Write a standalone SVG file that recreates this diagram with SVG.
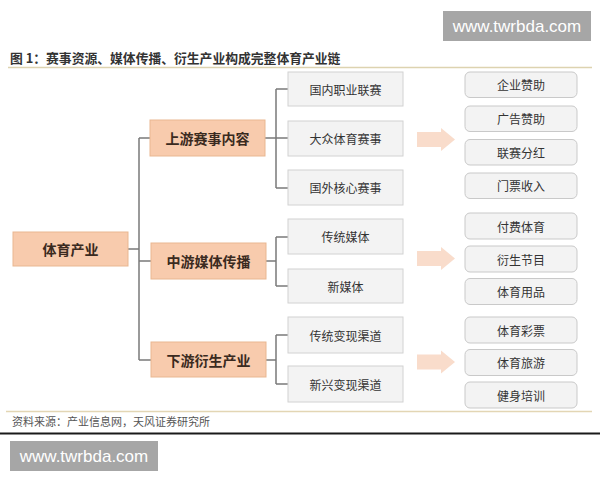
<svg xmlns="http://www.w3.org/2000/svg" width="600" height="480" viewBox="0 0 600 480">
<style>
text{font-family:"Noto Sans CJK SC","Noto Sans",sans-serif;text-anchor:middle;dominant-baseline:central}
.org{fill:#f8cbad;stroke:#e9b791;stroke-width:1}
.orgt{font-size:14px;font-weight:bold;fill:#3a2a20}
.mid{fill:#f3f3f3;stroke:#d2d2d2;stroke-width:1}
.midt{font-size:12px;fill:#333}
.rgt{fill:#f3f3f3;stroke:#c9c9c9;stroke-width:1}
.rgtt{font-size:12px;fill:#333}
.conn{fill:none;stroke:#7a7a7a;stroke-width:1.5}
.arr{fill:#f9dccb}
.wm{fill:#a6a6a6}
.wmt{font-family:"Liberation Sans",Arial,sans-serif;font-size:17px;fill:#ffffff}
</style>
<rect x="0" y="0" width="600" height="480" fill="#ffffff"/>
<g id="watermark-top"><rect class="wm" x="443" y="11" width="148" height="30"/><text class="wmt" x="517" y="26">www.twrbda.com</text></g>
<g id="title"><text x="10" y="57" style="text-anchor:start;font-size:12.8px;font-weight:bold;fill:#333">图 1：赛事资源、媒体传播、衍生产业构成完整体育产业链</text></g>
<line x1="8" y1="67.5" x2="592" y2="67.5" stroke="#ddd3b0" stroke-width="1.5"/>
<g id="connectors">
<path class="conn" d="M128 249 H139 M139 138 V360 M139 138 H150 M139 261 H151 M139 360 H151"/>
<path class="conn" d="M265 138 H276 M276 89 V188 M276 89 H288 M276 138 H288 M276 188 H288"/>
<path class="conn" d="M266 261 H276 M276 237 V286 M276 237 H288 M276 286 H288"/>
<path class="conn" d="M266 360 H276 M276 335 V384 M276 335 H288 M276 384 H288"/>
</g>
<g id="arrows">
<path class="arr" d="M417 132 H441 V128 L455 139.5 L441 151 V147 H417 Z"/>
<path class="arr" d="M417 251 H441 V247 L455 258.5 L441 270 V266 H417 Z"/>
<path class="arr" d="M417 354.5 H441 V350.5 L455 362 L441 373.5 V369.5 H417 Z"/>
</g>
<g id="n-tiyu"><rect class="org" x="13" y="232" width="115" height="34"/><text class="orgt" x="70.5" y="249">体育产业</text></g>
<g id="n-shangyou"><rect class="org" x="150" y="120" width="115" height="36"/><text class="orgt" x="207.5" y="138">上游赛事内容</text></g>
<g id="n-zhongyou"><rect class="org" x="151" y="243" width="115" height="36"/><text class="orgt" x="208.5" y="261">中游媒体传播</text></g>
<g id="n-xiayou"><rect class="org" x="151" y="342" width="115" height="35"/><text class="orgt" x="208.5" y="359.5">下游衍生产业</text></g>
<g id="n-guonei"><rect class="mid" x="288" y="72" width="115" height="34"/><text class="midt" x="345.5" y="89">国内职业联赛</text></g>
<g id="n-dazhong"><rect class="mid" x="288" y="121" width="115" height="35"/><text class="midt" x="345.5" y="138.5">大众体育赛事</text></g>
<g id="n-guowai"><rect class="mid" x="288" y="170" width="115" height="35"/><text class="midt" x="345.5" y="187.5">国外核心赛事</text></g>
<g id="n-chuantong"><rect class="mid" x="288" y="219" width="115" height="35"/><text class="midt" x="345.5" y="236.5">传统媒体</text></g>
<g id="n-xinmeiti"><rect class="mid" x="288" y="269" width="115" height="34"/><text class="midt" x="345.5" y="286">新媒体</text></g>
<g id="n-ctbx"><rect class="mid" x="288" y="317" width="115" height="36"/><text class="midt" x="345.5" y="335">传统变现渠道</text></g>
<g id="n-xxbx"><rect class="mid" x="288" y="366" width="115" height="36"/><text class="midt" x="345.5" y="384">新兴变现渠道</text></g>
<g id="n-qiye"><rect class="rgt" x="465" y="72" width="112" height="25.5" rx="5"/><text class="rgtt" x="521" y="84.7">企业赞助</text></g>
<g id="n-guanggao"><rect class="rgt" x="465" y="106" width="112" height="25.5" rx="5"/><text class="rgtt" x="521" y="118.7">广告赞助</text></g>
<g id="n-fenhong"><rect class="rgt" x="465" y="139.5" width="112" height="25.5" rx="5"/><text class="rgtt" x="521" y="152.2">联赛分红</text></g>
<g id="n-menpiao"><rect class="rgt" x="465" y="173" width="112" height="25.5" rx="5"/><text class="rgtt" x="521" y="185.7">门票收入</text></g>
<g id="n-fufei"><rect class="rgt" x="465" y="213" width="112" height="26" rx="5"/><text class="rgtt" x="521" y="226">付费体育</text></g>
<g id="n-yansheng"><rect class="rgt" x="465" y="246" width="112" height="26" rx="5"/><text class="rgtt" x="521" y="259">衍生节目</text></g>
<g id="n-yongpin"><rect class="rgt" x="465" y="278.5" width="112" height="26" rx="5"/><text class="rgtt" x="521" y="291.5">体育用品</text></g>
<g id="n-caipiao"><rect class="rgt" x="465" y="317" width="112" height="26" rx="5"/><text class="rgtt" x="521" y="330">体育彩票</text></g>
<g id="n-lvyou"><rect class="rgt" x="465" y="349.5" width="112" height="26" rx="5"/><text class="rgtt" x="521" y="362.5">体育旅游</text></g>
<g id="n-peixun"><rect class="rgt" x="465" y="382" width="112" height="26" rx="5"/><text class="rgtt" x="521" y="395">健身培训</text></g>
<line x1="6" y1="411.5" x2="592" y2="411.5" stroke="#e3d6b4" stroke-width="1.5"/>
<g id="source"><text x="12" y="421" style="text-anchor:start;font-size:11px;fill:#555">资料来源：产业信息网，天风证券研究所</text></g>
<line x1="0" y1="433.5" x2="600" y2="433.5" stroke="#1a1a1a" stroke-width="2"/>
<g id="watermark-bottom"><rect class="wm" x="10" y="441" width="148" height="30"/><text class="wmt" x="84" y="456">www.twrbda.com</text></g>
</svg>
